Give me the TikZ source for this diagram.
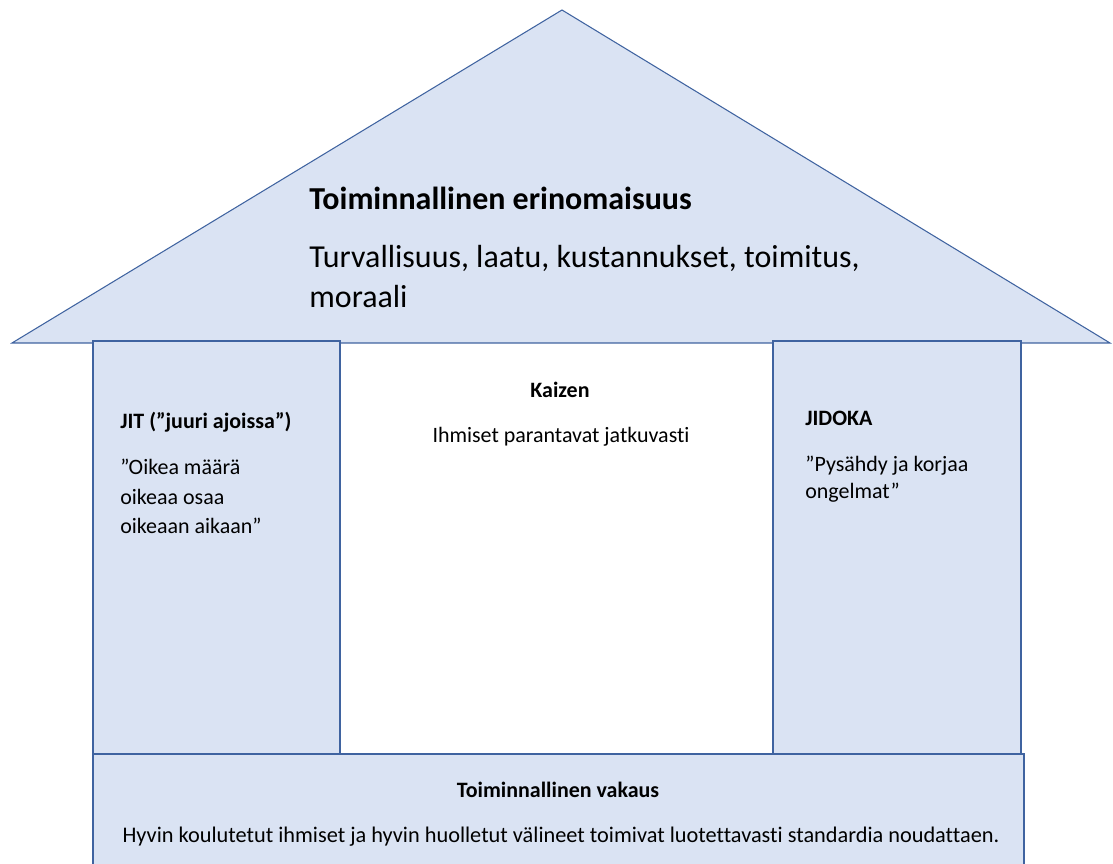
\documentclass[tikz,border=0pt]{standalone}
\usepackage{fontspec}
\setmainfont{Carlito}[Ligatures=NoCommon]
\usepackage{tikz}
\usetikzlibrary{positioning}

\definecolor{housefill}{HTML}{DAE3F3}
\definecolor{houseline}{RGB}{63,99,160}

\begin{document}
\begin{tikzpicture}[
    x=0.02cm, y=-0.02cm,
    part/.style={draw=houseline, fill=housefill, line width=0.6pt},
    head/.style={inner sep=0pt, font=\fontsize{12.5}{17}\selectfont\bfseries},
    body/.style={inner sep=0pt, align=left, font=\fontsize{12.5}{17}\selectfont},
    bighead/.style={inner sep=0pt, font=\fontsize{18.2}{23}\selectfont\bfseries},
    bigbody/.style={inner sep=0pt, align=left, font=\fontsize{18.2}{23.3}\selectfont}
]
\clip (0,0) rectangle (1113,864);
\fill[white] (0,0) rectangle (1113,864);

% Roof
\draw[part, line join=miter] (12,343) -- (562,10) -- (1110,343) -- cycle;
\node[bighead, anchor=base west] (roofhead) at (309,210) {Toiminnallinen erinomaisuus};
% multi-line nodes sit on their last baseline
\node[bigbody, anchor=base west] (roofbody) at (309,308) {Turvallisuus, laatu, kustannukset, toimitus,\\moraali};

% Pillars
\draw[part] (93,341) rectangle (340,760);
\draw[part] (773,341) rectangle (1021,760);

% JIT pillar
\node[head, anchor=base west] (jithead) at (120,429) {JIT (”juuri ajoissa”)};
\node[body, anchor=base west] (jitbody) at (120,534) {”Oikea määrä\\oikeaa osaa\\oikeaan aikaan”};

% Kaizen in the middle
\node[head, anchor=base] (kaizenhead) at (560,398) {Kaizen};
\node[body, anchor=base] (kaizenbody) at (561,443) {Ihmiset parantavat jatkuvasti};

% JIDOKA pillar
\node[head, anchor=base west] (jidokahead) at (805,426) {JIDOKA};
\node[body, anchor=base west, font=\fontsize{12.5}{15.9}\selectfont] (jidokabody) at (805,499) {”Pysähdy ja korjaa\\ongelmat”};

% Foundation
\draw[part] (93,754) rectangle (1024,880);
\node[head, anchor=base] (basehead) at (558,798) {Toiminnallinen vakaus};
\node[body, anchor=base, font=\fontsize{12.7}{17}\selectfont] (basebody) at (561,843) {Hyvin koulutetut ihmiset ja hyvin huolletut välineet toimivat luotettavasti standardia noudattaen.};

\end{tikzpicture}
\end{document}
